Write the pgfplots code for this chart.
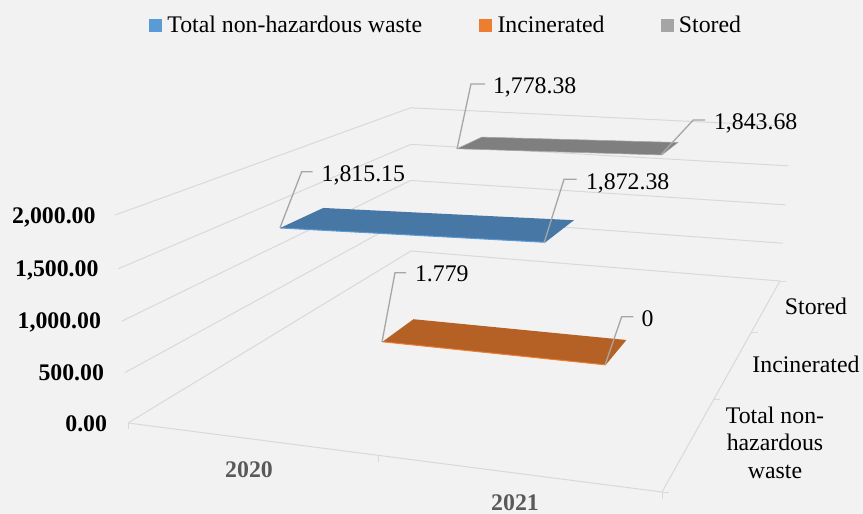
\documentclass[border=0pt]{standalone}
\usepackage{fontspec}
\setmainfont{Liberation Serif}
\usepackage{pgfplots}
\pgfplotsset{compat=1.18}
\usepackage{pgfplotstable}

\definecolor{pagebg}{HTML}{F2F2F2}
\definecolor{gridc}{HTML}{D9D9D9}
\definecolor{leader}{HTML}{A6A6A6}
\definecolor{wasteedge}{HTML}{5B9BD5}
\definecolor{wastetop}{HTML}{4777A5}
\definecolor{incedge}{HTML}{ED7D31}
\definecolor{inctop}{HTML}{B56125}
\definecolor{storedge}{HTML}{A5A5A5}
\definecolor{stortop}{HTML}{7F7F7F}
\definecolor{catgray}{HTML}{595959}

% Ribbons: u = position along the years (0..2), d = depth slot (0..3), v = value
\pgfplotstableread{
u d v
0.5 0.305 1815.15
1.5 0.305 1872.38
1.5 0.695 1872.38
0.5 0.695 1815.15
0.5 0.305 1815.15
}\wasteribbon
\pgfplotstableread{
u d v
0.5 1.305 1.779
1.5 1.305 0
1.5 1.695 0
0.5 1.695 1.779
0.5 1.305 1.779
}\incribbon
\pgfplotstableread{
u d v
0.5 2.305 1778.38
1.5 2.305 1843.68
1.5 2.695 1843.68
0.5 2.695 1778.38
0.5 2.305 1778.38
}\storribbon

\newcommand{\lab}{\fontsize{23.8}{27.5}\selectfont}

\begin{document}
\begin{tikzpicture}[
  declare function={
    pw(\uu,\dd,\vv)=1-0.11598*\uu/2+0.48424*\dd/3-0.042*\vv/2000;
    px(\uu,\dd,\vv)=(128+457.22*\uu/2+482.02*\dd/3-17.83*\vv/2000)/pw(\uu,\dd,\vv);
    py(\uu,\dd,\vv)=(423+11.94*\uu/2-50.46*\dd/3-217.03*\vv/2000)/pw(\uu,\dd,\vv);
  }]
\begin{axis}[
  scale only axis, width=863pt, height=514pt,
  xmin=0, xmax=863, ymin=0, ymax=514, y dir=reverse,
  axis line style={draw=none}, ticks=none,
  axis background/.style={fill=pagebg},
  clip=false,
  legend columns=3,
  legend style={draw=none, fill=none, font=\lab, at={(axis cs:149,25)}, anchor=west,
    inner sep=0pt, outer sep=0pt,
    /tikz/column 2/.style={column sep=55pt},
    /tikz/column 4/.style={column sep=54pt}},
  legend image code/.code={\fill[#1] (0pt,-6pt) rectangle (12pt,6pt);},
  projected/.style={/pgfplots/table/x expr={px(\thisrow{u},\thisrow{d},\thisrow{v})},
                    /pgfplots/table/y expr={py(\thisrow{u},\thisrow{d},\thisrow{v})}},
  gridstyle/.style={draw=gridc, line width=1pt, forget plot},
  leaderstyle/.style={draw=leader, line width=1.3pt, forget plot},
]
\addlegendimage{wasteedge}
\addlegendentry{\hspace{4pt}Total non-hazardous waste}
\addlegendimage{incedge}
\addlegendentry{\hspace{4pt}Incinerated}
\addlegendimage{storedge}
\addlegendentry{\hspace{4pt}Stored}

% Walls and floor
\pgfplotsinvokeforeach{0,500,1000,1500,2000}{
  \addplot[gridstyle] table[row sep=\\, projected]{u d v\\ 0 0 #1\\ 0 3 #1\\ 2 3 #1\\};
}
\addplot[gridstyle] table[row sep=\\, projected]{u d v\\ 0 0 0\\ 2 0 0\\ 2 3 0\\};

% Axis ticks on the floor edges
\addplot[gridstyle] coordinates {(128,423) (128,429)};
\addplot[gridstyle] coordinates {(378,455.5) (378,461.5)};
\addplot[gridstyle] coordinates {(662,492) (662,499)};
\addplot[gridstyle] coordinates {(662,492) (669,492)};
\addplot[gridstyle] coordinates {(713.5,399.3) (720,399.3)};
\addplot[gridstyle] coordinates {(751.7,332.3) (758,332.3)};
\addplot[gridstyle] coordinates {(780,281) (786,281)};

% Series ribbons with their brighter front edges
\addplot[fill=stortop, draw=storedge, line width=0.6pt, forget plot] table[projected]{\storribbon};
\addplot[fill=wastetop, draw=none, forget plot] table[projected]{\wasteribbon};
\addplot[draw=wasteedge, line width=1pt, forget plot] table[row sep=\\, projected]{u d v\\ 0.5 0.305 1815.15\\ 1.5 0.305 1872.38\\};
\addplot[fill=inctop, draw=none, forget plot] table[projected]{\incribbon};
\addplot[draw=incedge, line width=1pt, forget plot] table[row sep=\\, projected]{u d v\\ 0.5 1.305 1.779\\ 1.5 1.305 0\\};

% Leader lines of the value labels
\addplot[leaderstyle] coordinates {(457,149) (471,84) (485,84)};
\addplot[leaderstyle] coordinates {(660.7,155) (693.3,120) (705,120)};
\addplot[leaderstyle] coordinates {(280,227.7) (301.7,171.7) (312.7,171.7)};
\addplot[leaderstyle] coordinates {(544,243) (564,179.3) (576.7,179.3)};
\addplot[leaderstyle] coordinates {(382,342) (395,272.7) (406,272.7)};
\addplot[leaderstyle] coordinates {(605,365) (621.7,316.7) (633.3,316.7)};

% Value labels
\begin{scope}[every node/.style={inner sep=0pt, outer sep=0pt, font=\lab, anchor=base west}]
\node at (axis cs:493,93) {1,778.38};
\node at (axis cs:714,129.3) {1,843.68};
\node at (axis cs:321.7,181.7) {1,815.15};
\node at (axis cs:586,189) {1,872.38};
\node at (axis cs:415,281.7) {1.779};
\node at (axis cs:641.7,326) {0};
\end{scope}

% Value axis labels follow the slanted front edge of the wall
\begin{scope}[every node/.style={inner sep=0pt, outer sep=0pt, font=\lab\bfseries, anchor=base east}]
\node at (axis cs:95.5,223) {2,000.00};
\node at (axis cs:98.5,276) {1,500.00};
\node at (axis cs:101,328.5) {1,000.00};
\node at (axis cs:104,380) {500.00};
\node at (axis cs:107,431) {0.00};
\end{scope}

% Year labels
\node[inner sep=0pt, font=\lab\bfseries, text=catgray, anchor=base] at (axis cs:249,477) {2020};
\node[inner sep=0pt, font=\lab\bfseries, text=catgray, anchor=base] at (axis cs:515,510.5) {2021};

% Depth axis labels
\node[inner sep=0pt, font=\lab, anchor=base] at (axis cs:816,314) {Stored};
\node[inner sep=0pt, font=\lab, anchor=base] at (axis cs:806,372) {Incinerated};
\node[inner sep=0pt, font=\lab, align=center, anchor=base] at (axis cs:775,478) {Total non-\\hazardous\\waste};
\end{axis}
\end{tikzpicture}
\end{document}
